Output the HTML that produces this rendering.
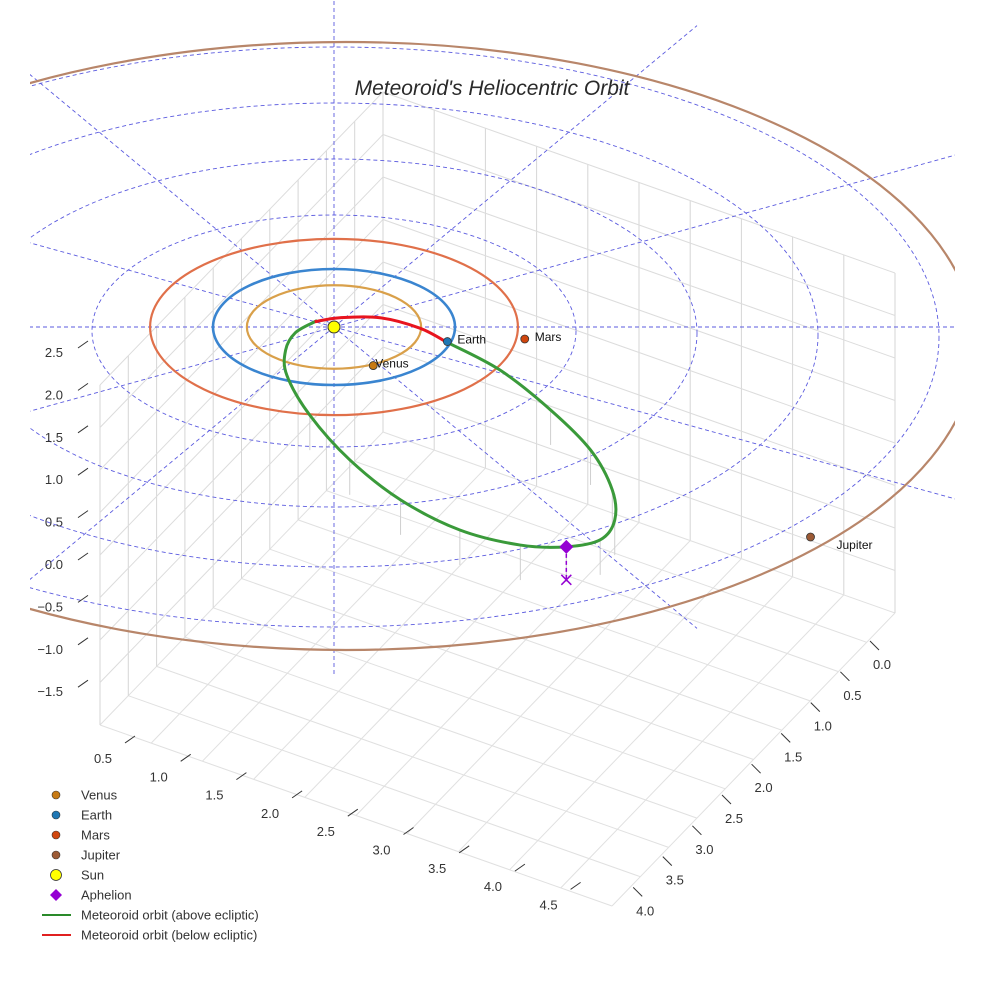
<!DOCTYPE html>
<html><head><meta charset="utf-8"><style>
body{margin:0;background:#fff;font-family:"Liberation Sans",sans-serif}
svg text{font-family:"Liberation Sans",sans-serif}
</style></head><body>
<svg id="c" width="984" height="984" viewBox="0 0 984 984">
<defs><clipPath id="clip"><rect x="30" y="0" width="925" height="984"/></clipPath></defs>
<g clip-path="url(#clip)">
<g id="grid"></g>
<g id="polar"></g>
<g id="orbits"></g>
<g id="met"></g>
<g id="pts"></g>
</g>
<g id="axes"></g>
<text x="492" y="95" text-anchor="middle" font-size="21" font-style="italic" fill="#2a2a2a">Meteoroid's Heliocentric Orbit</text>
<g id="legend"></g>
</svg>
<script>
const planetNames=["Venus","Earth","Mars","Jupiter"];
const planetRadii=[0.72,1.0,1.52,5.2];
const planetAngles=[64,15,7.5,42.6];
const planetPosR=[0.74,0.97,1.59,5.35];
const orbitColors=["#d9a04a","#3a85d0","#e0704a","#b8866a"];
const markerColors=["#c77a14","#1f77b4","#d0460e","#9c5a35"];
const metX=[0.93,1.37,1.79,2.12,2.30,2.32,2.20,1.92,1.54,1.04,0.55,0.13,-0.20,-0.39,-0.40,-0.32,-0.16];
const metY=[0.26,0.74,1.43,2.12,2.81,3.33,3.67,3.79,3.76,3.50,2.98,2.29,1.52,0.83,0.40,0.10,-0.09];
const belowX=[-0.16,0.05,0.38,0.71,0.93];
const belowY=[-0.09,-0.16,-0.16,0.02,0.26];
const aphelionX=1.92, aphelionY=3.79;
const zTicks=["2.5","2.0","1.5","1.0","0.5","0.0","\u22120.5","\u22121.0","\u22121.5"];
const xTicks=["0.5","1.0","1.5","2.0","2.5","3.0","3.5","4.0","4.5"];
const yTicks=["0.0","0.5","1.0","1.5","2.0","2.5","3.0","3.5","4.0"];
const ringRadii=[2,3,4,5];

const NS="http://www.w3.org/2000/svg";
const CX=334,CY=327,SX=121,SY=58;
const px=x=>CX+SX*x, py=y=>CY+SY*y;
function mk(t,a,p){const e=document.createElementNS(NS,t);for(const k in a)e.setAttribute(k,a[k]);p.appendChild(e);return e;}
const G=id=>document.getElementById(id);

// grid box
const grid=G('grid');
const A=[100,725],F=[612,906],R=[895,613],H=340;
const K=[A[0]+(R[0]-F[0]),A[1]+(R[1]-F[1])];
for(let i=0;i<=10;i++){
  const t=i/10;
  const ax=A[0]+(F[0]-A[0])*t, ay=A[1]+(F[1]-A[1])*t;
  const l=mk('line',{x1:ax,y1:ay,x2:ax+(R[0]-F[0]),y2:ay+(R[1]-F[1]),stroke:"#e0e0e0","stroke-width":1},grid);
  
  const bx=F[0]+(R[0]-F[0])*t, by=F[1]+(R[1]-F[1])*t;
  const l2=mk('line',{x1:bx,y1:by,x2:bx+(A[0]-F[0]),y2:by+(A[1]-F[1]),stroke:"#e0e0e0","stroke-width":1},grid);
  
  const wx=A[0]+(K[0]-A[0])*t, wy=A[1]+(K[1]-A[1])*t;
  const v=mk('line',{x1:wx,y1:wy,x2:wx,y2:wy-H,stroke:"#d6d6d6","stroke-width":1},grid);
  
  const bx2=K[0]+(R[0]-K[0])*t, by2=K[1]+(R[1]-K[1])*t;
  const v2=mk('line',{x1:bx2,y1:by2,x2:bx2,y2:by2-H,stroke:"#d6d6d6","stroke-width":1},grid);
  
}
for(let j=1;j<=8;j++){
  const h=j*H/8;
  const l=mk('polyline',{points:`${A[0]},${A[1]-h} ${K[0]},${K[1]-h} ${R[0]},${R[1]-h}`,fill:"none",stroke:"#dcdcdc","stroke-width":1},grid);
  
}

// polar grid
const polar=G('polar');
ringRadii.forEach(r=>{const e=mk('ellipse',{cx:CX,cy:CY+r*2,rx:r*SX,ry:r*SY,fill:"none",stroke:"#5b5bdf","stroke-width":0.9,"stroke-dasharray":"4 3"},polar);
});
for(let k=0;k<12;k++){const a=k*Math.PI/6,r=6;
const l=mk('line',{x1:CX,y1:CY,x2:px(r*Math.cos(a)),y2:py(r*Math.sin(a)),stroke:"#5b5bdf","stroke-width":0.9,"stroke-dasharray":"4 3"},polar);
}

// orbits
const orb=G('orbits');
planetRadii.forEach((r,i)=>{const big=r>3;
const e=mk('ellipse',{cx:CX+(big?12:0),cy:CY+(big?19:0),rx:r*SX,ry:big?304:r*SY,fill:"none",stroke:orbitColors[i],"stroke-width":i==1?2.6:2.2},orb);
});

// meteoroid
const met=G('met');
function smooth(xs,ys){let d=`M${px(xs[0])},${py(ys[0])}`;const P=xs.map((x,i)=>[px(x),py(ys[i])]);
for(let i=0;i<P.length-1;i++){const p0=P[Math.max(i-1,0)],p1=P[i],p2=P[i+1],p3=P[Math.min(i+2,P.length-1)];
d+=` C${p1[0]+(p2[0]-p0[0])/6},${p1[1]+(p2[1]-p0[1])/6} ${p2[0]-(p3[0]-p1[0])/6},${p2[1]-(p3[1]-p1[1])/6} ${p2[0]},${p2[1]}`;}return d;}
metX.forEach((x,i)=>{if(metY[i]>1){const l=mk('line',{x1:px(x),y1:py(metY[i]),x2:px(x),y2:py(metY[i])+35,stroke:"#cfcfcf","stroke-width":1},met);
}});
const g1=mk('path',{d:smooth(metX.concat([belowX[0]]),metY.concat([belowY[0]])),fill:"none",stroke:"#3a9a3a","stroke-width":3},met);

const r1=mk('path',{d:smooth(belowX,belowY),fill:"none",stroke:"#e8141e","stroke-width":3},met);

const ax_=px(aphelionX),ay_=py(aphelionY);
const dl=mk('line',{x1:ax_,y1:ay_,x2:ax_,y2:ay_+33,stroke:"#9400d3","stroke-width":1.5,"stroke-dasharray":"4 3"},met);

const xm=mk('path',{d:`M${ax_-5},${ay_+28}l10,10m0,-10l-10,10`,stroke:"#9400d3","stroke-width":1.5},met);

const dia=mk('path',{d:`M${ax_},${ay_-7}l7,7l-7,7l-7,-7z`,fill:"#9400d3"},met);


// planets
const pts=G('pts');
const sun=mk('circle',{cx:CX,cy:CY,r:6,fill:"#ffff00",stroke:"#333","stroke-width":1},pts);

planetNames.forEach((n,i)=>{const a=planetAngles[i]*Math.PI/180,r=planetPosR[i];
const x=px(r*Math.cos(a)),y=py(r*Math.sin(a));
const c=mk('circle',{cx:x,cy:y,r:4,fill:markerColors[i],stroke:"#333","stroke-width":0.8},pts);

const dx=i==0?2:(i==3?26:10);
const t=mk('text',{x:x+dx,y:y+(i==3?12:2),"font-size":12,fill:"#111"},pts);t.textContent=n;
});

// axes
const axes=G('axes');
zTicks.forEach((s,i)=>{const y=352+i*42.4;
const t=mk('text',{x:63,y:y+5,"font-size":13,fill:"#333","text-anchor":"end"},axes);t.textContent=s;

const m=mk('line',{x1:78,y1:y-4,x2:88,y2:y-11,stroke:"#333"},axes);});
xTicks.forEach((s,i)=>{const x=103+i*55.7,y=763+i*18.3;
const t=mk('text',{x:x,y:y,"font-size":13,fill:"#333","text-anchor":"middle"},axes);t.textContent=s;

const m=mk('line',{x1:x+22,y1:y-20,x2:x+32,y2:y-27,stroke:"#333"},axes);});
yTicks.forEach((s,i)=>{const x=882-i*29.6,y=669+i*30.8;
const t=mk('text',{x:x,y:y,"font-size":13,fill:"#333","text-anchor":"middle"},axes);t.textContent=s;

const m=mk('line',{x1:x-12,y1:y-28,x2:x-3,y2:y-19,stroke:"#333"},axes);});

// legend
const lg=G('legend');
const legNames=["Venus","Earth","Mars","Jupiter","Sun","Aphelion","Meteoroid orbit (above ecliptic)","Meteoroid orbit (below ecliptic)"];
legNames.forEach((n,i)=>{const y=795+i*20;
const gi=mk('g',{},lg);
if(i<4)mk('circle',{cx:56,cy:y,r:4,fill:markerColors[i],stroke:"#333","stroke-width":0.6},gi);
else if(i==4)mk('circle',{cx:56,cy:y,r:5.5,fill:"#ffff00",stroke:"#333","stroke-width":0.8},gi);
else if(i==5)mk('path',{d:`M56,${y-6}l6,6l-6,6l-6,-6z`,fill:"#9400d3"},gi);
else mk('line',{x1:42,y1:y,x2:71,y2:y,stroke:i==6?"#2a8a2a":"#e02020","stroke-width":2},gi);
const t=mk('text',{x:81,y:y+4.5,"font-size":13,fill:"#333"},gi);t.textContent=n;});
</script>
</body></html>
